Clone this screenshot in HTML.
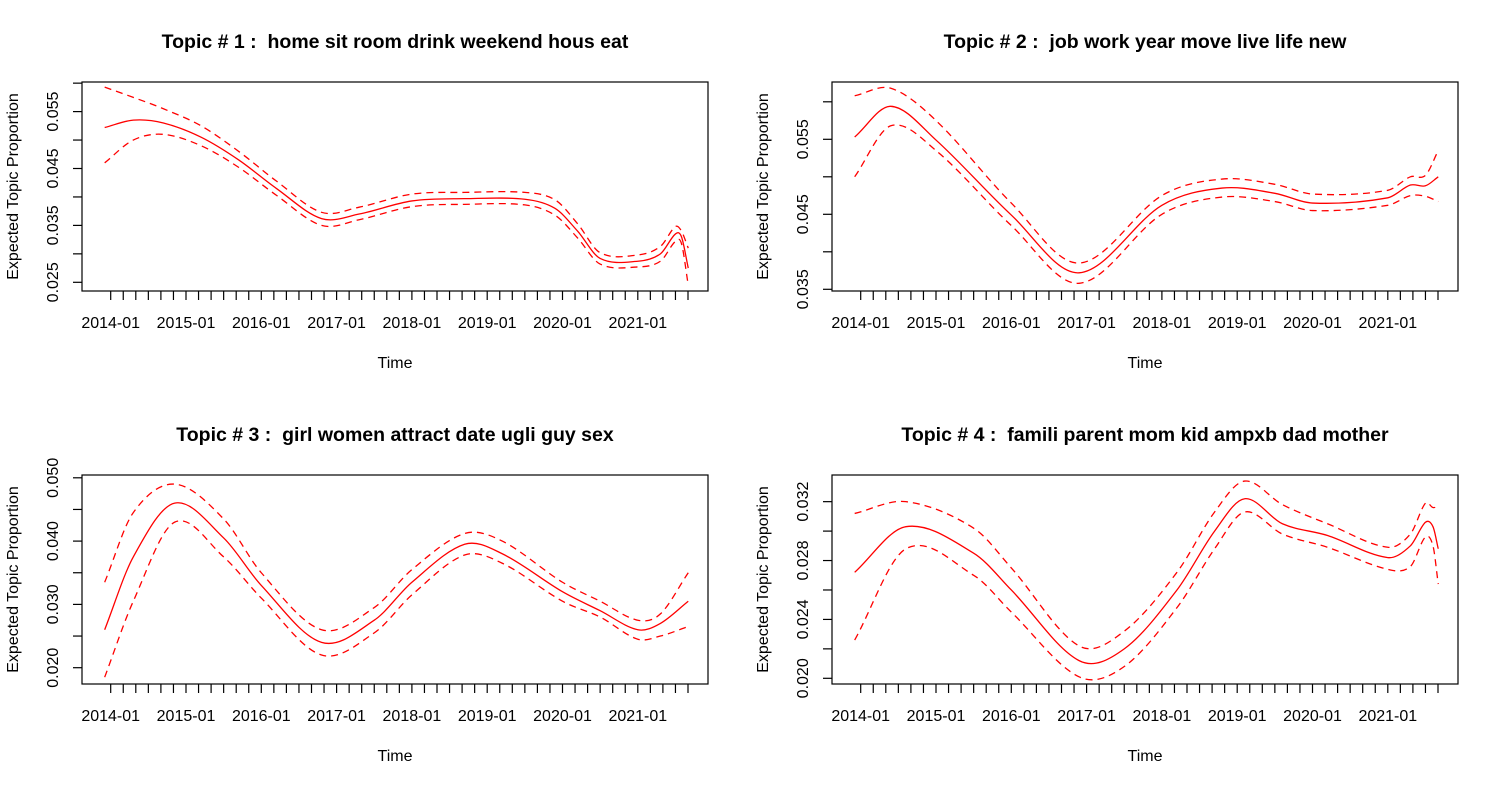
<!DOCTYPE html>
<html><head><meta charset="utf-8"><style>
body{margin:0;background:#fff}
svg{display:block;font-family:"Liberation Sans",Arial,sans-serif}
text{white-space:pre}
</style></head><body>
<svg id="c" width="1500" height="786" viewBox="0 0 1500 786"></svg>
<script>
const tickTimesStart = 2014, tickCount = 47;
const yearLabels = ["2014-01","2015-01","2016-01","2017-01","2018-01","2019-01","2020-01","2021-01"];
const titles = ["Topic # 1 :  home sit room drink weekend hous eat","Topic # 2 :  job work year move live life new","Topic # 3 :  girl women attract date ugli guy sex","Topic # 4 :  famili parent mom kid ampxb dad mother"];

const t1 = [2013.92,2014.3,2014.7,2015.2,2015.7,2016.2,2016.8,2017.3,2018.0,2018.7,2019.5,2019.9,2020.2,2020.5,2021.0,2021.3,2021.5,2021.58,2021.67];
const mean1 = [.0522,.0535,.0530,.0505,.0465,.0415,.0362,.0370,.0393,.0397,.0396,.0380,.0340,.0292,.0287,.0300,.0335,.0330,.0275];
const upper1 = [.0593,.0575,.0555,.0525,.0480,.0428,.0373,.0382,.0405,.0408,.0408,.0395,.0353,.0302,.0298,.0313,.0348,.0340,.0310];
const lower1 = [.0460,.0500,.0510,.0490,.0452,.0403,.0350,.0360,.0383,.0387,.0386,.0368,.0328,.0282,.0277,.0287,.0322,.0318,.0245];

const t2 = [2013.92,2014.4,2015.0,2016.0,2016.9,2018.0,2018.8,2019.5,2020.0,2021.0,2021.3,2021.5,2021.67];
const mean2 = [.0553,.0594,.0549,.0449,.0372,.0462,.0485,.0478,.0465,.0472,.0489,.0488,.0500];
const upper2 = [.0608,.0618,.0575,.0465,.0385,.0475,.0497,.0490,.0477,.0482,.0500,.0502,.0535];
const lower2 = [.0500,.0568,.0535,.0435,.0358,.0450,.0473,.0467,.0455,.0462,.0475,.0474,.0467];

const t3 = [2013.92,2014.3,2014.85,2015.5,2016.0,2016.8,2017.5,2018.0,2018.7,2019.2,2020.0,2020.5,2021.0,2021.3,2021.67];
const mean3 = [.0260,.0375,.0460,.0405,.0330,.0240,.0275,.0335,.0395,.0380,.0320,.0290,.0260,.0270,.0305];
const upper3 = [.0335,.0445,.0490,.0435,.0350,.0260,.0295,.0355,.0412,.0400,.0335,.0305,.0275,.0285,.0350];
const lower3 = [.0185,.0305,.0430,.0375,.0310,.0220,.0255,.0315,.0378,.0365,.0305,.0280,.0245,.0250,.0265];

const t4 = [2013.92,2014.6,2015.5,2016.0,2016.9,2017.5,2018.2,2018.7,2019.1,2019.6,2020.2,2021.0,2021.3,2021.5,2021.6,2021.67];
const mean4 = [.0272,.0303,.0285,.0260,.0212,.0220,.0260,.0300,.0322,.0305,.0297,.0282,.0290,.0306,.0303,.0288];
const upper4 = [.0312,.0320,.0302,.0275,.0222,.0232,.0272,.0313,.0334,.0318,.0305,.0289,.0298,.0319,.0316,.0317];
const lower4 = [.0226,.0288,.0270,.0245,.0201,.0208,.0248,.0288,.0313,.0298,.0289,.0274,.0276,.0296,.0290,.0264];

const yTicks1=[.025,.030,.035,.040,.045,.050,.055,.060];
const yTicks2=[.035,.040,.045,.050,.055,.060];
const yTicks3=[.020,.025,.030,.035,.040,.045,.050];
const yTicks4=[.020,.022,.024,.026,.028,.030,.032];

const panels=[
 {L:82,T:82,B:291,y0:.025,yp0:282.3,ppu:5690,t:t1,m:mean1,u:upper1,l:lower1,yt:yTicks1,yl:[.025,.035,.045,.055]},
 {L:832,T:82,B:291,y0:.035,yp0:289.3,ppu:7500,t:t2,m:mean2,u:upper2,l:lower2,yt:yTicks2,yl:[.035,.045,.055]},
 {L:82,T:475,B:684,y0:.020,yp0:667.7,ppu:6330,t:t3,m:mean3,u:upper3,l:lower3,yt:yTicks3,yl:[.020,.030,.040,.050]},
 {L:832,T:475,B:684,y0:.020,yp0:678.3,ppu:14720,t:t4,m:mean4,u:upper4,l:lower4,yt:yTicks4,yl:[.020,.024,.028,.032]}
];
const NS="http://www.w3.org/2000/svg", svg=document.getElementById('c');
function mk(tag,attrs,parent){const e=document.createElementNS(NS,tag);for(const k in attrs)e.setAttribute(k,attrs[k]);(parent||svg).appendChild(e);return e;}
function smooth(pts){
 const n=pts.length, m=[];
 for(let i=0;i<n;i++){const a=pts[Math.max(0,i-1)],b=pts[Math.min(n-1,i+1)];m.push((b[1]-a[1])/(b[0]-a[0]));}
 let d=`M${pts[0][0]},${pts[0][1]}`;
 for(let i=0;i<n-1;i++){const p1=pts[i],p2=pts[i+1],h=(p2[0]-p1[0])/3;
  d+=` C${p1[0]+h},${p1[1]+m[i]*h} ${p2[0]-h},${p2[1]-m[i+1]*h} ${p2[0]},${p2[1]}`;}
 return d;}
panels.forEach((p,i)=>{
 const g=mk('g',{});
 
 
 const R=p.L+626, xs=t=>p.L+28.7+(t-2014)*75.3, ys=v=>p.yp0-(v-p.y0)*p.ppu;
 const title=mk('text',{x:(p.L+R)/2,y:p.T-34,'text-anchor':'middle','font-size':19.5,'font-weight':'bold'},g);title.textContent=titles[i];
 
 
 const box=mk('rect',{x:p.L,y:p.T,width:626,height:p.B-p.T,fill:'none',stroke:'#000','stroke-width':1.2},g);
 
 
 for(let k=0;k<tickCount;k++){const x=xs(tickTimesStart+k/6);mk('line',{x1:x,x2:x,y1:p.B,y2:p.B+9,stroke:'#000','stroke-width':1.2},g);
  if(k%6===0){const tx=mk('text',{x:x,y:p.B+37,'text-anchor':'middle','font-size':16},g);tx.textContent=yearLabels[k/6];
   
   }}
 p.yt.forEach(v=>{const y=ys(v);mk('line',{x1:p.L-9,x2:p.L,y1:y,y2:y,stroke:'#000','stroke-width':1.2},g);});
 p.yl.forEach(v=>{const y=ys(v);const tx=mk('text',{x:0,y:0,'text-anchor':'middle','font-size':16,transform:`translate(${p.L-24},${y}) rotate(-90)`},g);tx.textContent=v.toFixed(3);
  
  });
 const xt=mk('text',{x:(p.L+R)/2,y:p.B+77,'text-anchor':'middle','font-size':16},g);xt.textContent='Time';
 
 
 const yt=mk('text',{x:0,y:0,'text-anchor':'middle','font-size':16,transform:`translate(${p.L-64},${(p.T+p.B)/2}) rotate(-90)`},g);yt.textContent='Expected Topic Proportion';
 
 
 [[p.m,'mean-line',null],[p.u,'upper-ci-line','7,5'],[p.l,'lower-ci-line','7,5']].forEach(([arr,nm,da])=>{
  const pts=arr.map((v,j)=>[xs(p.t[j]),ys(v)]);
  const a={d:smooth(pts),fill:'none',stroke:'#ff0000','stroke-width':1.3};if(da)a['stroke-dasharray']=da;
  const path=mk('path',a,g);
  
  
 });
});
</script>
</body></html>
